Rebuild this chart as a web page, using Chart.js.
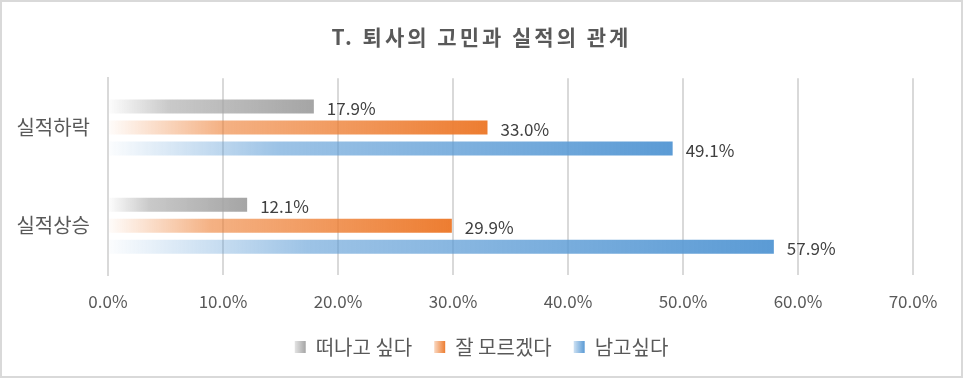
<!DOCTYPE html>
<html>
<head>
<meta charset="utf-8">
<script src="https://cdn.jsdelivr.net/npm/chart.js@4"></script>
<style>
  html, body { margin: 0; padding: 0; background: #fff; }
  #wrap { width: 959px; height: 374px; border: 2px solid #d9d9d9; }
</style>
</head>
<body>
<div id="wrap"><canvas id="barCanvas" width="959" height="374"></canvas></div>
<script>
// 퇴사의 고민과 실적의 관계
const categories = ["실적하락", "실적상승"];
const leaveValues = [17.9, 12.1];
const unsureValues = [33.0, 29.9];
const stayValues = [49.1, 57.9];
const seriesNames = ["떠나고 싶다", "잘 모르겠다", "남고싶다"];
const seriesColors = ["165,165,165", "237,125,49", "91,155,213"];

const FONT = "'Noto Sans CJK KR', 'Noto Sans', sans-serif";

function barGradient(c, rgb) {
    const chart = c.chart;
    if (!chart.chartArea || c.raw === undefined) return "rgb(" + rgb + ")";
    const x0 = chart.scales.x.getPixelForValue(0);
    const x1 = chart.scales.x.getPixelForValue(c.raw);
    const g = chart.ctx.createLinearGradient(x0, 0, x1, 0);
    g.addColorStop(0, "rgba(" + rgb + ",0.02)");
    g.addColorStop(0.3, "rgba(" + rgb + ",0.6)");
    g.addColorStop(1, "rgba(" + rgb + ",1)");
    return g;
}

// value labels right of each bar
const valueLabels = {
    id: "valueLabels",
    afterDatasetsDraw(chart) {
        const ctx = chart.ctx;
        ctx.save();
        ctx.font = "17px " + FONT;
        ctx.fillStyle = "#404040";
        ctx.textAlign = "left";
        ctx.textBaseline = "middle";
        chart.data.datasets.forEach((ds, i) => {
            chart.getDatasetMeta(i).data.forEach((bar, j) => {
                ctx.fillText(ds.data[j].toFixed(1) + "%", bar.x + 13, bar.y + 2);
            });
        });
        ctx.restore();
    }
};

// gradient legend boxes
const legendGradient = {
    id: "legendGradient",
    beforeDraw(chart) {
        const lg = chart.legend;
        if (!lg || !lg.legendHitBoxes) return;
        lg.legendItems.forEach((item, i) => {
            const hb = lg.legendHitBoxes[i];
            if (!hb) return;
            const g = chart.ctx.createLinearGradient(hb.left, 0, hb.left + 11, 0);
            g.addColorStop(0, "rgba(" + seriesColors[i] + ",0.3)");
            g.addColorStop(1, "rgba(" + seriesColors[i] + ",1)");
            item.fillStyle = g;
        });
    }
};

const barCanvas = document.getElementById("barCanvas");

const barChart = new Chart(barCanvas, {
    type: "bar",
    data: {
        labels: categories,
        datasets: [
            {
                label: seriesNames[0],
                data: leaveValues,
                backgroundColor: c => barGradient(c, seriesColors[0]),
            },
            {
                label: seriesNames[1],
                data: unsureValues,
                backgroundColor: c => barGradient(c, seriesColors[1]),
            },
            {
                label: seriesNames[2],
                data: stayValues,
                backgroundColor: c => barGradient(c, seriesColors[2]),
            },
        ],
    },
    plugins: [valueLabels, legendGradient],
    options: {
        indexAxis: "y",
        responsive: false,
        animation: false,
        categoryPercentage: 0.64,
        barPercentage: 0.667,
        layout: { padding: { left: 0, right: 0, top: 0, bottom: 9 } },
        plugins: {
            title: {
                display: true,
                text: "T. 퇴사의 고민과 실적의 관계",
                color: "#595959",
                font: { family: FONT, size: 21, weight: "bold" },
                padding: { top: 22, bottom: 29 },
            },
            legend: {
                position: "bottom",
                labels: {
                    color: "#595959",
                    font: { family: FONT, size: 20 },
                    boxWidth: 11,
                    boxHeight: 12,
                    padding: 22,
                },
            },
            tooltip: { enabled: false },
        },
        scales: {
            x: {
                min: 0,
                max: 70,
                ticks: {
                    stepSize: 10,
                    color: "#595959",
                    font: { family: FONT, size: 17 },
                    padding: 16,
                    callback: v => v.toFixed(1) + "%",
                },
                grid: { color: "#d9d9d9", lineWidth: 2, drawTicks: false },
                border: { display: false },
                afterFit: s => { s.height = 40; },
            },
            y: {
                ticks: {
                    color: "#595959",
                    font: { family: FONT, size: 20 },
                    padding: 18,
                },
                grid: { display: false, drawTicks: false },
                border: { display: true, color: "#d9d9d9", width: 2 },
                afterFit: s => { s.width = 106; },
            },
            // empty right axis, only keeps space right of the plot
            yRight: {
                position: "right",
                ticks: { display: false },
                grid: { display: false, drawTicks: false },
                border: { display: false },
                afterFit: s => { s.width = 48; },
            },
        },
    },
});

// wider letter spacing on the title, like the original
const titleBox = barChart.titleBlock;
if (titleBox) {
    const drawTitle = titleBox.draw.bind(titleBox);
    titleBox.draw = function () {
        barChart.ctx.save();
        barChart.ctx.letterSpacing = "3px";
        drawTitle();
        barChart.ctx.restore();
    };
    barChart.draw();
}
</script>
</body>
</html>
